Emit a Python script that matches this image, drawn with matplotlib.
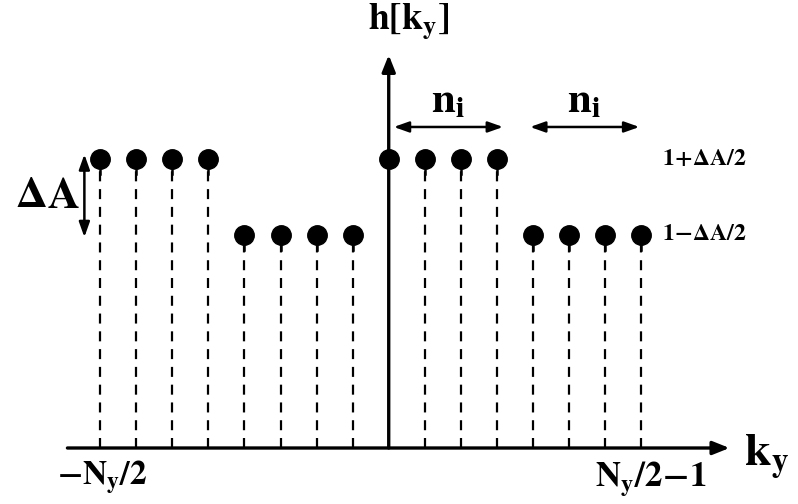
import numpy as np
import matplotlib.pyplot as plt

plt.rcParams['mathtext.fontset'] = 'stix'
plt.rcParams['font.family'] = 'Liberation Serif'

# sample index k_y, from -N_y/2 to N_y/2-1
k = np.arange(-8, 8)
dA = 0.3
h_hi = 1 + dA / 2
h_lo = 1 - dA / 2
# blocks of n_i = 4 samples alternating high / low
h = np.array([h_hi] * 4 + [h_lo] * 4 + [h_hi] * 4 + [h_lo] * 4)

fig = plt.figure(figsize=(7.98, 5.04), dpi=100)
ax = fig.add_axes([0, 0, 1, 1])
ax.set_xlim(-10.78, 11.35)
ax.set_ylim(-0.2231, 1.7849)
ax.axis('off')

# dashed stems, with a short solid piece under each dot
for kk, hh in zip(k, h):
    if kk == 0:
        continue
    ax.plot([kk, kk], [0, hh], color='black', lw=1.6, ls=(0, (4.5, 3.5)))
    ax.plot([kk, kk], [hh - 0.06, hh], color='black', lw=1.8)
ax.plot(k, h, 'o', color='black', ms=14, zorder=5)

arr = dict(arrowstyle='-|>,head_length=1.0,head_width=0.4', color='black', lw=2.4, shrinkA=0, shrinkB=0)
# axes
ax.annotate('', xy=(9.45, 0), xytext=(-8.91, 0), arrowprops=arr)
ax.annotate('', xy=(0, 1.566), xytext=(0, 0), arrowprops=arr)

dbl = dict(arrowstyle='<|-|>,head_length=0.9,head_width=0.32', color='black', lw=1.8, shrinkA=0, shrinkB=0)
ax.annotate('', xy=(0.14, 1.279), xytext=(3.17, 1.279), arrowprops=dbl)
ax.annotate('', xy=(3.92, 1.279), xytext=(6.95, 1.279), arrowprops=dbl)
ax.annotate('', xy=(-8.44, h_hi + 0.02), xytext=(-8.44, h_lo - 0.01), arrowprops=dbl)

ax.text(0.55, 1.70, r'$\mathbf{h[k_y]}$', fontsize=27, ha='center', va='center')
ax.text(1.655, 1.38, r'$\mathbf{n_i}$', fontsize=31, ha='center', va='center')
ax.text(5.43, 1.38, r'$\mathbf{n_i}$', fontsize=31, ha='center', va='center')
ax.text(-9.46, 1.0, r'$\mathbf{\Delta A}$', fontsize=32, ha='center', va='center')
ax.text(7.59, h_hi, r'$\mathbf{1\!+\!\Delta A/2}$', fontsize=17, ha='left', va='center')
ax.text(7.59, h_lo, r'$\mathbf{1\!-\!\Delta A/2}$', fontsize=17, ha='left', va='center')
ax.text(-7.94, -0.116, r'$\mathbf{-N_y/2}$', fontsize=24, ha='center', va='center')
ax.text(7.28, -0.127, r'$\mathbf{N_y/2\!-\!1}$', fontsize=25, ha='center', va='center')
ax.text(10.48, -0.036, r'$\mathbf{k_y}$', fontsize=34, ha='center', va='center')

fig.savefig('out.png', dpi=100)
